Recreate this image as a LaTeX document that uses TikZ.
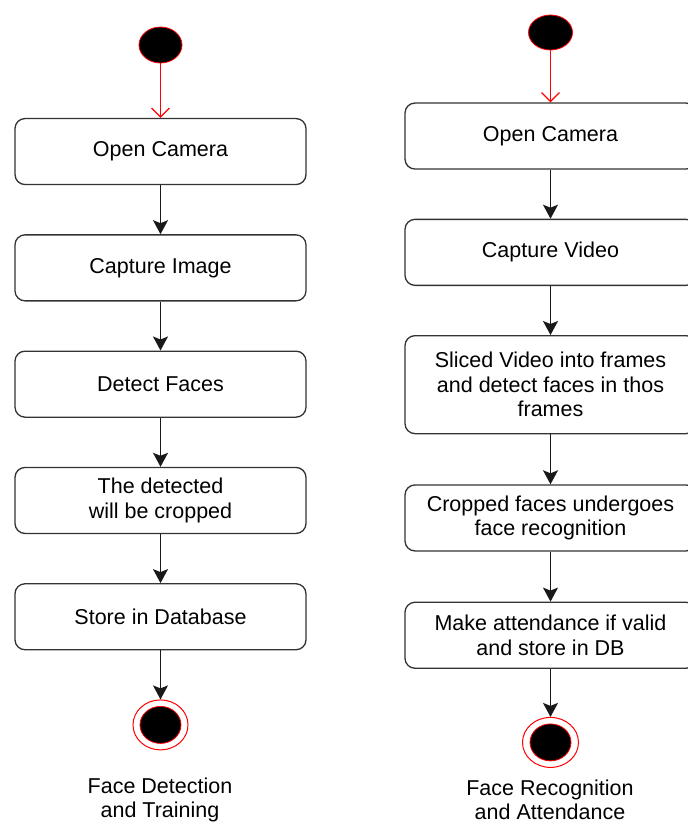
\documentclass[tikz,border=0pt]{standalone}
\usepackage{fontspec}
\setmainfont{Liberation Sans}
\usetikzlibrary{positioning}
\usetikzlibrary{shapes.geometric}
\usetikzlibrary{arrows.meta}

\begin{document}
\begin{tikzpicture}[
        x=1pt, y=-1pt,
        font=\fontsize{21.5}{24.5}\selectfont,
        action/.style={
            draw=black!80,
            line width=1.3pt,
            rounded corners=10pt,
            fill=white,
            minimum width=291pt,
            minimum height=66pt,
            align=center,
            inner sep=0pt,
        },
        initial/.style={
            ellipse,
            draw=red,
            fill=black,
            line width=0.8pt,
            minimum width=43pt,
            minimum height=36pt,
            inner sep=0pt,
        },
        finalring/.style={
            ellipse,
            draw=red,
            fill=white,
            line width=1pt,
            minimum width=55pt,
            minimum height=50pt,
            inner sep=0pt,
        },
        finalcore/.style={
            initial,
            minimum width=41pt,
            minimum height=37pt,
        },
        flow/.style={
            draw=black!90,
            line width=1.5pt,
            -{Stealth[length=14pt,width=15pt,inset=3pt]},
        },
        begin/.style={
            draw=red,
            line width=1.2pt,
            -{Straight Barb[length=9pt,width=18pt]},
        },
    ]
    \useasboundingbox (0,0) rectangle (688,825);
    \clip (0,0) rectangle (688,825);

    % Left column: detection and training.
    \node[initial] (ls) at (160.5,45) {};

    \node[action, below=54.5pt of ls] (l1) {Open Camera};
    \node[action, below=49pt of l1] (l2) {Capture Image};
    \node[action, below=49pt of l2] (l3) {Detect Faces};
    \node[action, below=49pt of l3] (l4) {The detected\\will be cropped};
    \node[action, below=49pt of l4] (l5) {Store in Database};

    \node[finalring, below=49pt of l5] (le) {};
    \node[finalcore] at (le.center) {};

    \node[align=center] (lt) at (160,800) {Face Detection\\and Training};

    % Right column: recognition and attendance.
    \node[initial, minimum width=44pt, minimum height=35pt] (rs) at (550.5,32.5) {};

    \node[action, below=52pt of rs] (r1) {Open Camera};
    \node[action, below=49pt of r1] (r2) {Capture Video};
    \node[action, below=49pt of r2, minimum height=98pt] (r3)
        {Sliced Video into frames\\and detect faces in thos\\frames};
    \node[action, below=50pt of r3] (r4) {Cropped faces undergoes\\face recognition};
    \node[action, below=50pt of r4] (r5) {Make attendance if valid\\and store in DB};

    \node[finalring, below=48pt of r5, minimum width=56pt] (re) {};
    \node[finalcore] at (re.center) {};

    \node[align=center] (rt) at (550,800) {Face Recognition\\and Attendance};

    % Draw transitions.
    \draw[begin] (ls) to (l1);
    \draw[flow] (l1) to (l2);
    \draw[flow] (l2) to (l3);
    \draw[flow] (l3) to (l4);
    \draw[flow] (l4) to (l5);
    \draw[flow] (l5) to (le);

    \draw[begin] (rs) to (r1);
    \draw[flow] (r1) to (r2);
    \draw[flow] (r2) to (r3);
    \draw[flow] (r3) to (r4);
    \draw[flow] (r4) to (r5);
    \draw[flow] (r5) to (re);

\end{tikzpicture}
\end{document}
